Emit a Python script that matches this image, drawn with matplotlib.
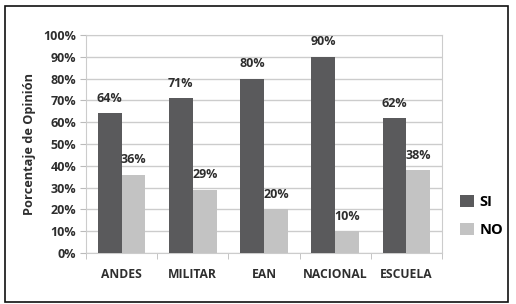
import matplotlib.pyplot as plt
import numpy as np
from matplotlib.patches import Rectangle

plt.rcParams['font.family'] = ['Open Sans', 'DejaVu Sans']
plt.rcParams['font.weight'] = 'bold'

# datos
categorias = ['ANDES', 'MILITAR', 'EAN', 'NACIONAL', 'ESCUELA']
si = [64, 71, 80, 90, 62]
no = [36, 29, 20, 10, 38]
etiquetas_y = ['0%', '10%', '20%', '30%', '40%', '50%', '60%', '70%', '80%', '90%', '100%']

fig = plt.figure(figsize=(5.16, 3.04), dpi=100)
ax = fig.add_axes([86/516, 1 - 253/304, (442 - 86)/516, (253 - 35)/304])

x = np.arange(len(categorias))
w = 0.335
b1 = ax.bar(x - w/2, si, w, color='#5a5a5c', label='SI', zorder=3)
b2 = ax.bar(x + w/2, no, w, color='#c3c3c3', label='NO', zorder=3)

texto = '#2e2e2e'
for rects, vals in ((b1, si), (b2, no)):
    for r, v in zip(rects, vals):
        ax.annotate(f'{v}%', (r.get_x() + r.get_width()/2, v), xytext=(0, 6),
                    textcoords='offset points', ha='center', va='bottom',
                    fontsize=9, fontweight='bold', color=texto)

ax.set_xlim(-0.5, len(categorias) - 0.5)
ax.set_ylim(0, 100)
ax.set_yticks(np.arange(0, 101, 10))
ax.set_yticklabels(etiquetas_y, fontsize=9, fontweight='bold', color=texto)
ax.set_xticks(x)
ax.set_xticklabels(categorias, fontsize=8.7, fontweight='bold', color=texto)
ax.set_xticks(np.arange(-0.5, len(categorias), 1), minor=True)
ax.tick_params(axis='x', which='major', length=0, pad=11)
ax.tick_params(axis='x', which='minor', length=4, color='#bbbbbb')
ax.tick_params(axis='y', length=4, color='#bbbbbb', pad=3)
ax.grid(axis='y', color='#cccccc', linewidth=1, zorder=0)
for s in ax.spines.values():
    s.set_color('#cccccc')

ax.set_ylabel('Porcentaje de Opinión', fontsize=9.2, fontweight='bold', color=texto, labelpad=5)

ax.legend(loc='center left', bbox_to_anchor=(1.015, 0.17), frameon=False,
          prop={'weight': 'bold', 'size': 10.5}, handlelength=0.9, handleheight=0.9,
          handletextpad=0.4, labelspacing=1.0)

# marco exterior
fig.patches.append(Rectangle((5/516, 2/304), 503/516, 296/304, transform=fig.transFigure,
                             fill=False, edgecolor='#111111', linewidth=1.2))

fig.savefig('out.png', dpi=100)
